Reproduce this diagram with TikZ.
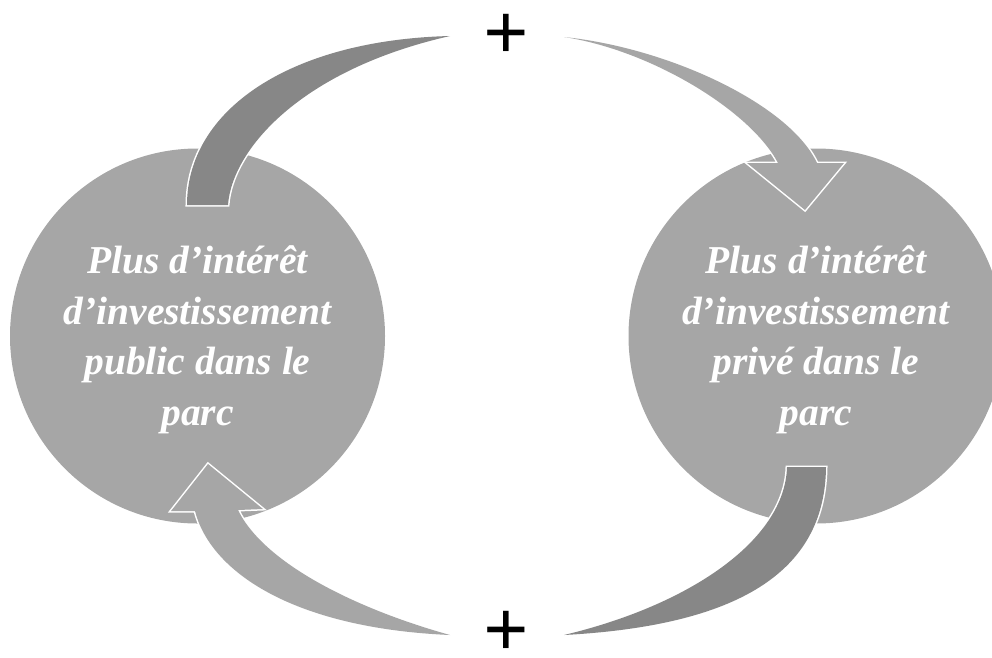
\documentclass[tikz,border=0pt]{standalone}
\usepackage{fontspec}
\setmainfont{Liberation Serif}
\definecolor{circgray}{HTML}{A6A6A6}
\definecolor{arrdark}{HTML}{878787}
\tikzset{
  bubble/.style={circle, fill=circgray, minimum size=375pt, inner sep=0pt},
  lbl/.style={text=white, align=center, inner sep=0pt,
    font=\fontsize{39.5}{50.5}\selectfont\bfseries\itshape},
  plussign/.style={inner sep=0pt, anchor=base, text height=44pt, text depth=0pt,
    font=\fontsize{80}{80}\selectfont\bfseries},
  darkarrow/.style={fill=arrdark, line join=miter,
    preaction={draw=white, line width=3pt, line join=miter}},
  lightarrow/.style={fill=circgray, line join=miter,
    preaction={draw=white, line width=3pt, line join=miter}}
}
\begin{document}
\begin{tikzpicture}[x=1pt,y=-1pt]
\useasboundingbox (0,0) rectangle (992,657);
\clip (0,0) rectangle (992,657);
% circles
\node[bubble] (L) at (197.5,336) {};
\node[bubble] (R) at (816,336) {};
% labels
\node[lbl] (Lt) at (197.5,340) {Plus d’intérêt\\d’investissement\\public dans le\\parc};
\node[lbl] (Rt) at (816,340) {Plus d’intérêt\\d’investissement\\privé dans le\\parc};
% plus signs
\node[plussign] (ptop) at (506,59.5) {+};
\node[plussign] (pbot) at (506,656) {+};
% arrow 1: left circle top -> top plus (dark)
\path[darkarrow] (187,205) .. controls (187,110) and (290,40) .. (450,36)
  .. controls (300,70) and (232,150) .. (228,205) -- cycle;
% arrow 2: top -> right circle (light, head)
\path[lightarrow] (564,37) .. controls (670,48) and (790,105) .. (817,163)
  -- (844,163) -- (805,210) -- (747,163) -- (778,163)
  .. controls (750,110) and (650,50) .. (564,37) -- cycle;
% arrow 3: right circle bottom -> bottom plus (dark)
\path[darkarrow] (826,467) .. controls (825,565) and (750,625) .. (564,635)
  .. controls (690,605) and (785,540) .. (787,467) -- cycle;
% arrow 4: bottom -> left circle (light, head)
\path[lightarrow] (450,635) .. controls (290,628) and (210,570) .. (195,511)
  -- (171,511) -- (208,464) -- (263,509) -- (238,510)
  .. controls (265,565) and (360,610) .. (450,635) -- cycle;
\end{tikzpicture}
\end{document}
